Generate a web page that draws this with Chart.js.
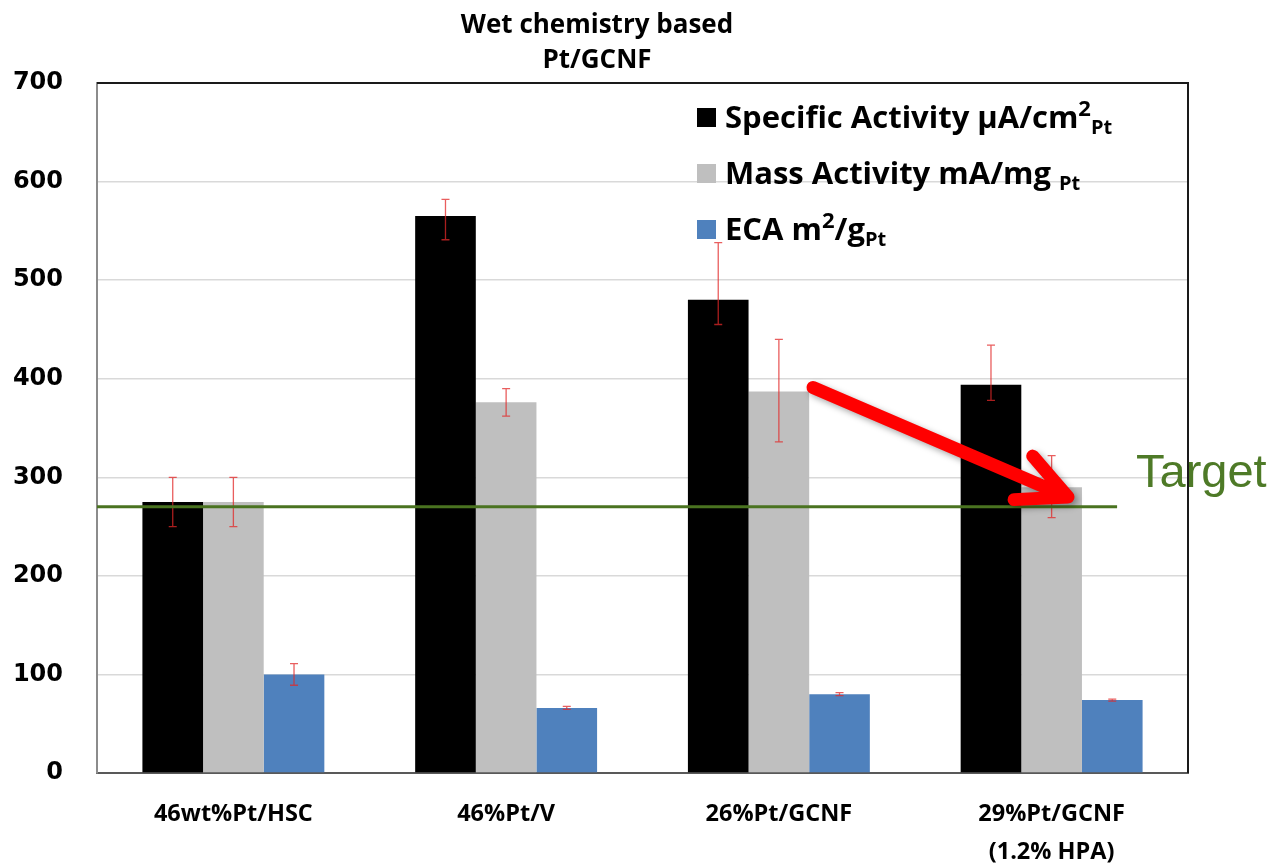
<!DOCTYPE html>
<html>
<head>
<meta charset="utf-8">
<script src="https://cdn.jsdelivr.net/npm/chart.js@4"></script>
<style>
html,body{margin:0;padding:0;background:#fff;}
#wrap{width:1276px;height:868px;position:relative;}
</style>
</head>
<body>
<div id="wrap"><canvas id="c" width="1276" height="868"></canvas></div>
<script>
// ---- data ----
const categories = ['46wt%Pt/HSC', '46%Pt/V', '26%Pt/GCNF', ['29%Pt/GCNF', '(1.2% HPA)']];
const seriesLabels = ['Specific Activity μA/cm2Pt', 'Mass Activity mA/mg Pt', 'ECA m2/gPt'];
const specificActivity = [275, 565, 480, 394];
const massActivity = [275, 376, 387, 290];
const eca = [100, 66, 80, 74];
const specErrPlus = [25, 17, 58, 40];
const specErrMinus = [25, 24, 25, 16];
const massErrPlus = [25, 14, 53, 32];
const massErrMinus = [25, 14, 51, 31];
const ecaErrPlus = [11, 1.5, 1.5, 1];
const ecaErrMinus = [11, 1.5, 1.5, 1];
const yTicks = [0, 100, 200, 300, 400, 500, 600, 700];
const targetValue = 270;
const targetLabel = 'Target';
const titleLines = ['Wet chemistry based', 'Pt/GCNF'];
// rich legend text parts: [text, mode]
const legendParts = [
  [['Specific Activity μA/cm', ''], ['2', 'sup'], ['Pt', 'sub']],
  [['Mass Activity mA/mg ', ''], ['Pt', 'sub']],
  [['ECA m', ''], ['2', 'sup'], ['/g', ''], ['Pt', 'sub']]
];
// arrow annotation in data coordinates (category index, value)
const arrowFrom = [2.125, 391];
const arrowTo = [3.06, 280];
const targetLineEnd = 3.24; // category index where the target line ends

const colors = ['#000000', '#bfbfbf', '#4f81bd'];
const errPlus = [specErrPlus, massErrPlus, ecaErrPlus];
const errMinus = [specErrMinus, massErrMinus, ecaErrMinus];

const OS = '"Open Sans", Lato, sans-serif';

const decorPlugin = {
  id: 'decor',
  beforeDatasetsDraw(chart) {
    const {ctx, chartArea: a} = chart;
    ctx.save();
    ctx.strokeStyle = '#1a1a1a';
    ctx.lineWidth = 2;
    ctx.beginPath();
    ctx.moveTo(a.left, a.top);
    ctx.lineTo(a.right, a.top);
    ctx.lineTo(a.right, a.bottom);
    ctx.stroke();
    ctx.restore();
  },
  afterDatasetsDraw(chart) {
    const {ctx, chartArea: a, scales} = chart;
    const x = scales.x, y = scales.y;
    // error bars
    ctx.save();
    ctx.strokeStyle = 'rgba(225,40,40,0.75)';
    ctx.lineWidth = 1.3;
    chart.data.datasets.forEach((ds, di) => {
      const meta = chart.getDatasetMeta(di);
      meta.data.forEach((bar, i) => {
        const v = ds.data[i];
        const yt = y.getPixelForValue(v + errPlus[di][i]);
        const yb = y.getPixelForValue(v - errMinus[di][i]);
        const cx = bar.x;
        ctx.beginPath();
        ctx.moveTo(cx, yt); ctx.lineTo(cx, yb);
        ctx.moveTo(cx - 4, yt); ctx.lineTo(cx + 4, yt);
        ctx.moveTo(cx - 4, yb); ctx.lineTo(cx + 4, yb);
        ctx.stroke();
      });
    });
    ctx.restore();
    // target line
    const ty = y.getPixelForValue(targetValue);
    ctx.save();
    ctx.strokeStyle = '#4a7320';
    ctx.lineWidth = 3;
    ctx.beginPath();
    ctx.moveTo(a.left, ty);
    ctx.lineTo(x.getPixelForValue(targetLineEnd), ty);
    ctx.stroke();
    ctx.fillStyle = '#4e7a27';
    ctx.font = '47px "Liberation Sans", Arial, sans-serif';
    ctx.textAlign = 'left';
    ctx.textBaseline = 'alphabetic';
    ctx.fillText(targetLabel, 1136, ty - 20);
    ctx.restore();
    // arrow
    const x0 = x.getPixelForValue(arrowFrom[0]), y0 = y.getPixelForValue(arrowFrom[1]);
    const x1 = x.getPixelForValue(arrowTo[0]), y1 = y.getPixelForValue(arrowTo[1]);
    const ang = Math.atan2(y1 - y0, x1 - x0);
    const L = 54, spread = 26 * Math.PI / 180;
    ctx.save();
    ctx.strokeStyle = '#ff0000';
    ctx.lineWidth = 13;
    ctx.lineCap = 'round';
    ctx.lineJoin = 'round';
    ctx.shadowColor = 'rgba(0,0,0,0.35)';
    ctx.shadowBlur = 6;
    ctx.shadowOffsetX = 3;
    ctx.shadowOffsetY = 3;
    ctx.beginPath();
    ctx.moveTo(x0, y0);
    ctx.lineTo(x1, y1);
    ctx.moveTo(x1 - L * Math.cos(ang - spread), y1 - L * Math.sin(ang - spread));
    ctx.lineTo(x1, y1);
    ctx.lineTo(x1 - L * Math.cos(ang + spread), y1 - L * Math.sin(ang + spread));
    ctx.stroke();
    ctx.restore();
  },
  afterDraw(chart) {
    const {ctx} = chart;
    // title
    ctx.save();
    ctx.fillStyle = '#000';
    ctx.font = 'bold 26px ' + OS;
    ctx.textAlign = 'center';
    ctx.textBaseline = 'alphabetic';
    ctx.fillText(titleLines[0], 597, 33);
    ctx.fillText(titleLines[1], 597, 68);
    ctx.restore();
    // legend
    ctx.save();
    const rows = [117, 173, 229];
    legendParts.forEach((parts, i) => {
      const cy = rows[i];
      ctx.fillStyle = colors[i];
      ctx.fillRect(697, cy - 9, 19, 19);
      let px = 725;
      ctx.fillStyle = '#000';
      ctx.textBaseline = 'alphabetic';
      ctx.textAlign = 'left';
      const base = cy + 11;
      parts.forEach(([t, mode]) => {
        let fy = base;
        if (mode === 'sup') { ctx.font = 'bold 22px ' + OS; fy = base - 12; }
        else if (mode === 'sub') { ctx.font = 'bold 20px ' + OS; fy = base + 6; }
        else { ctx.font = 'bold 31px ' + OS; }
        ctx.fillText(t, px, fy);
        px += ctx.measureText(t).width;
      });
    });
    ctx.restore();
  }
};

new Chart(document.getElementById('c'), {
  type: 'bar',
  data: {
    labels: categories,
    datasets: [
      {label: seriesLabels[0], data: specificActivity, backgroundColor: colors[0]},
      {label: seriesLabels[1], data: massActivity, backgroundColor: colors[1]},
      {label: seriesLabels[2], data: eca, backgroundColor: colors[2]}
    ]
  },
  options: {
    responsive: false,
    animation: false,
    devicePixelRatio: 1,
    layout: {padding: {left: 0, top: 83, right: 88, bottom: 0}},
    datasets: {bar: {categoryPercentage: 0.667, barPercentage: 1.0}},
    plugins: {legend: {display: false}, title: {display: false}, tooltip: {enabled: false}},
    scales: {
      x: {
        grid: {display: false, drawTicks: false},
        border: {display: true, color: '#595959', width: 2},
        ticks: {color: '#000', font: {family: OS, weight: 'bold', size: 23.5, lineHeight: 1.62}, padding: 22, maxRotation: 0, autoSkip: false},
        afterFit(s) { s.height = 95; }
      },
      y: {
        min: 0, max: 700,
        afterBuildTicks(s) { s.ticks = yTicks.map(v => ({value: v})); },
        grid: {color: '#d9d9d9', lineWidth: 1.5, drawTicks: false},
        border: {display: true, color: '#8c8c8c', width: 2},
        ticks: {color: '#000', font: {family: '"DejaVu Sans", sans-serif', weight: 'bold', size: 24}, padding: 34},
        afterFit(s) { s.width = 97; }
      }
    }
  },
  plugins: [decorPlugin]
});
</script>
</body>
</html>
